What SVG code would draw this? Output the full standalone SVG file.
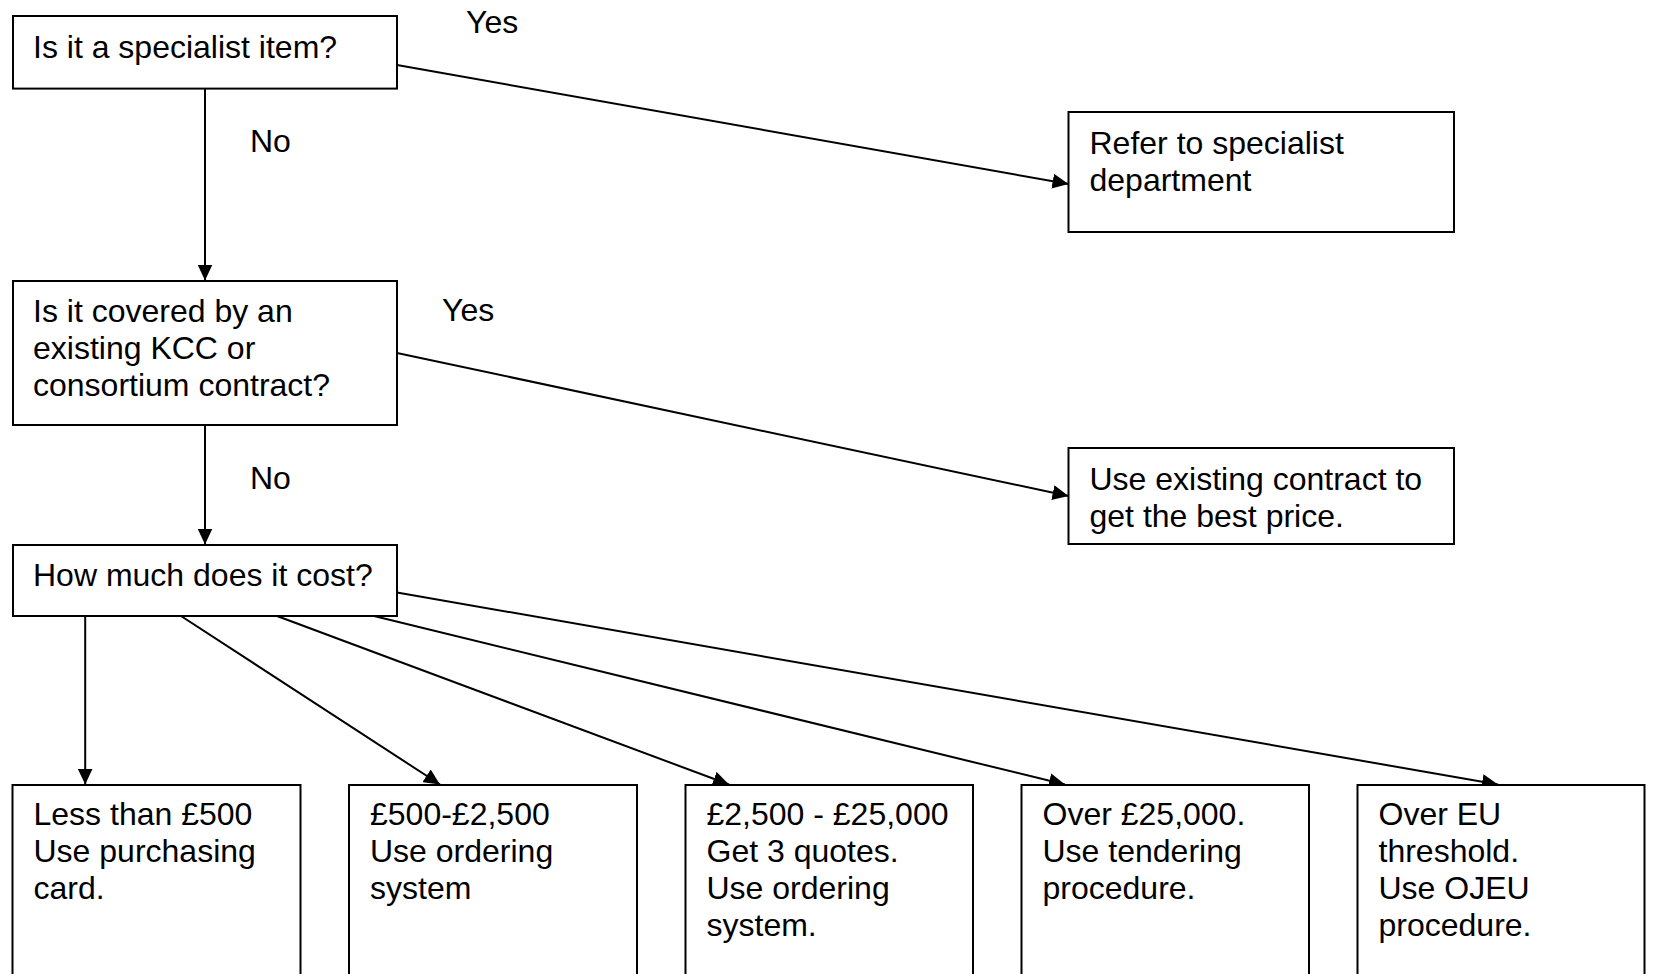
<svg xmlns="http://www.w3.org/2000/svg" width="1654" height="974" viewBox="0 0 1654 974">
<style>
.box{fill:#fff;stroke:#000;stroke-width:2}
.t{font-family:"Liberation Sans",Arial,sans-serif;font-size:32px;fill:#000}
.c{stroke:#000;stroke-width:2;fill:none;marker-end:url(#ah)}
</style>
<defs>
<marker id="ah" markerUnits="userSpaceOnUse" viewBox="0 0 16 15" refX="16" refY="7.5" markerWidth="16" markerHeight="15" orient="auto">
<path d="M0,0 L16,7.5 L0,15 z" fill="#000"/>
</marker>
</defs>
<rect width="1654" height="974" fill="#fff"/>
<g id="connectors">
<line class="c" x1="397" y1="65" x2="1068.5" y2="184"/>
<line class="c" x1="205" y1="88.6" x2="205" y2="280.5"/>
<line class="c" x1="397" y1="353" x2="1068.5" y2="496"/>
<line class="c" x1="205" y1="425" x2="205" y2="544.5"/>
<line class="c" x1="85.2" y1="616" x2="85.2" y2="784.5"/>
<line class="c" x1="181" y1="616" x2="440" y2="784.5"/>
<line class="c" x1="277" y1="616" x2="729" y2="784.5"/>
<line class="c" x1="374" y1="616" x2="1065" y2="784.5"/>
<line class="c" x1="397" y1="592.5" x2="1498" y2="784.5"/>
</g>
<g id="labels">
<text class="t" x="466" y="32.5">Yes</text>
<text class="t" x="250" y="152">No</text>
<text class="t" x="442" y="320.5">Yes</text>
<text class="t" x="250" y="488.5">No</text>
</g>
<g id="q1">
<rect class="box" x="13" y="16" width="384" height="72.6"/>
<text class="t" x="33" y="57.5">Is it a specialist item?</text>
</g>
<g id="specialist">
<rect class="box" x="1068.5" y="112" width="385.5" height="120"/>
<text class="t"><tspan x="1089.5" y="154">Refer to specialist</tspan><tspan x="1089.5" y="191">department</tspan></text>
</g>
<g id="q2">
<rect class="box" x="13" y="281" width="384" height="144"/>
<text class="t"><tspan x="33" y="321.5">Is it covered by an</tspan><tspan x="33" y="358.5">existing KCC or</tspan><tspan x="33" y="395.5">consortium contract?</tspan></text>
</g>
<g id="existing">
<rect class="box" x="1068.5" y="448" width="385.5" height="96"/>
<text class="t"><tspan x="1089.5" y="489.5">Use existing contract to</tspan><tspan x="1089.5" y="526.5">get the best price.</tspan></text>
</g>
<g id="q3">
<rect class="box" x="13" y="545" width="384" height="71"/>
<text class="t" x="33" y="585.5">How much does it cost?</text>
</g>
<g id="b1">
<rect class="box" x="12.5" y="785" width="288" height="220"/>
<text class="t"><tspan x="33.5" y="825">Less than £500</tspan><tspan x="33.5" y="862">Use purchasing</tspan><tspan x="33.5" y="899">card.</tspan></text>
</g>
<g id="b2">
<rect class="box" x="349" y="785" width="288" height="220"/>
<text class="t"><tspan x="370" y="825">£500-£2,500</tspan><tspan x="370" y="862">Use ordering</tspan><tspan x="370" y="899">system</tspan></text>
</g>
<g id="b3">
<rect class="box" x="685.5" y="785" width="287.5" height="220"/>
<text class="t"><tspan x="706.5" y="825">£2,500 - £25,000</tspan><tspan x="706.5" y="862">Get 3 quotes.</tspan><tspan x="706.5" y="899">Use ordering</tspan><tspan x="706.5" y="936">system.</tspan></text>
</g>
<g id="b4">
<rect class="box" x="1021.5" y="785" width="287.5" height="220"/>
<text class="t"><tspan x="1042.5" y="825">Over £25,000.</tspan><tspan x="1042.5" y="862">Use tendering</tspan><tspan x="1042.5" y="899">procedure.</tspan></text>
</g>
<g id="b5">
<rect class="box" x="1357.5" y="785" width="287" height="220"/>
<text class="t"><tspan x="1378.5" y="825">Over EU</tspan><tspan x="1378.5" y="862">threshold.</tspan><tspan x="1378.5" y="899">Use OJEU</tspan><tspan x="1378.5" y="936">procedure.</tspan></text>
</g>
</svg>
